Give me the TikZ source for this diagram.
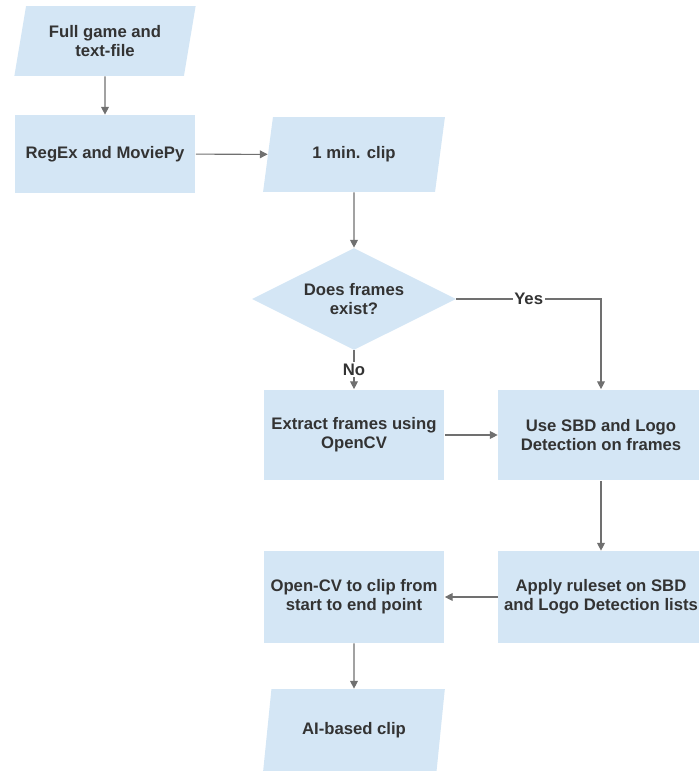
\documentclass[tikz,border=0pt]{standalone}
\usepackage{fontspec}
\setmainfont{Liberation Sans}
\usetikzlibrary{shapes.geometric,arrows.meta}
\definecolor{boxblue}{RGB}{212,230,245}
\definecolor{inkgray}{RGB}{51,51,51}
\definecolor{linegray}{RGB}{112,112,112}

\begin{document}
\begin{tikzpicture}[
    x=0.02cm, y=-0.02cm,
    every node/.style={font=\fontsize{9.5}{11}\selectfont\bfseries, text=inkgray},
    % Stijl voor verwerkingsstappen
    process/.style={rectangle, fill=boxblue, align=center,
                    minimum width=3.62cm, minimum height=1.82cm},
    % Stijl voor in- en uitvoer
    data/.style={trapezium, trapezium left angle=78, trapezium right angle=102,
                 trapezium stretches=true, fill=boxblue, align=center,
                 minimum width=3.64cm, minimum height=1.5cm},
    decision/.style={diamond, aspect=2, fill=boxblue, align=center,
                     minimum width=4.08cm, minimum height=2.04cm, inner sep=0pt},
    arrow/.style={-{Triangle[length=4.5pt,width=4.5pt]}, draw=linegray, line width=0.6pt},
    lbl/.style={fill=white, inner sep=1pt}
]
\useasboundingbox (0,0) rectangle (699,771);

% --- Linker kolom ---
\node[data, minimum height=1.4cm] (input) at (105,41) {Full game and\\text-file};
\node[process, minimum height=1.56cm] (regex) at (105,154) {RegEx and MoviePy};

% --- Midden kolom ---
\node[data] (clip) at (354,154.5) {1 min. clip};
\node[decision] (frames) at (354,299) {Does frames\\exist?};
\node[process] (extract) at (354,435) {Extract frames using\\OpenCV};
\node[process, minimum height=1.84cm] (cut) at (354,597) {Open-CV to clip from\\start to end point};
\node[data, minimum height=1.64cm] (aiclip) at (354,730) {AI-based clip};

% --- Rechter kolom ---
\node[process, minimum width=4.12cm] (detect) at (601,435) {Use SBD and Logo\\Detection on frames};
\node[process, minimum width=4.12cm, minimum height=1.84cm] (rules) at (601,597) {Apply ruleset on SBD\\and Logo Detection lists};

% --- Pijlen ---
\draw[arrow] (input) -- (regex);
\draw[arrow] (regex) -- (clip);
\draw[arrow] (clip) -- (frames);
\draw[arrow] (frames.east) -- node[lbl] {Yes} (frames.east -| detect.north) -- (detect);
\draw[arrow] (frames) -- node[lbl] {No} (extract);
\draw[arrow] (extract) -- (detect);
\draw[arrow] (detect) -- (rules);
\draw[arrow] (rules) -- (cut);
\draw[arrow] (cut) -- (aiclip);

\end{tikzpicture}
\end{document}
